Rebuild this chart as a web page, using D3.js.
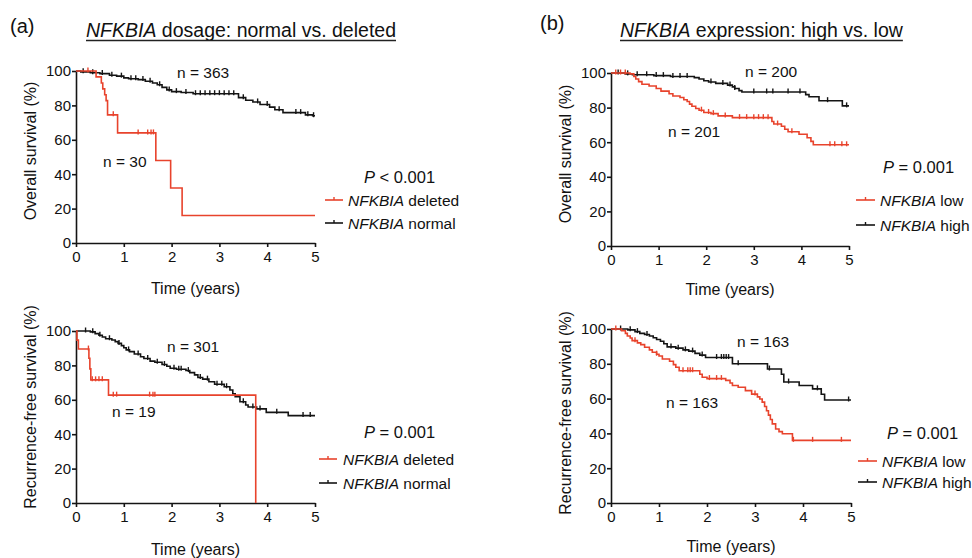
<!DOCTYPE html>
<html><head><meta charset="utf-8">
<script src="https://cdn.jsdelivr.net/npm/d3@7"></script>
<style>
body{margin:0;background:#fff}
svg{display:block}
text{font-family:"Liberation Sans",Arial,Helvetica,sans-serif;fill:#111}
</style>
</head><body>
<svg id="c" width="972" height="558"></svg>
<script>
// ---------- data ----------
const timeTicks = [0, 1, 2, 3, 4, 5];
const survTicks = [0, 20, 40, 60, 80, 100];

// (a) Overall survival
const aOS_normal = [[0,100],[0.1,99.5],[0.3,99],[0.5,98.5],[0.7,97.5],[0.85,97],[1.0,96],[1.1,95.5],[1.3,95],[1.45,94],[1.6,93],[1.7,92],[1.8,90.5],[1.9,89],[2.0,88],[2.2,87.5],[2.45,86.8],[3.4,84.5],[3.55,83],[3.7,82],[3.85,80.5],[4.05,79],[4.16,77.5],[4.33,75.8],[4.8,74.5],[4.95,74],[5,74]];
const aOS_normal_cens = [0.15,0.35,0.55,0.75,0.95,1.15,1.25,1.4,1.55,1.75,1.95,2.1,2.3,2.5,2.6,2.7,2.8,2.9,3.0,3.1,3.2,3.3,3.5,3.8,4.0,4.25,4.6,4.7,4.85,4.97];
const aOS_deleted = [[0,100],[0.42,96.6],[0.53,93],[0.56,89.6],[0.6,86.2],[0.63,82.8],[0.66,74.5],[0.87,64],[1.67,48],[1.98,32],[2.22,16],[5,16]];
const aOS_deleted_cens = [0.25,0.78,1.3,1.5,1.57,1.62];

// (a) Recurrence-free survival
const aRFS_normal = [[0,100],[0.3,99.5],[0.4,98.5],[0.48,97.5],[0.55,96.5],[0.62,95.5],[0.75,94.8],[0.82,93.8],[0.88,92.8],[0.95,91.5],[1.0,90.3],[1.05,89],[1.12,88],[1.22,86.6],[1.35,85],[1.42,84],[1.55,82.5],[1.65,81.8],[1.8,80.5],[1.9,79.5],[1.97,78.3],[2.1,77.8],[2.3,77],[2.38,75.8],[2.48,74.5],[2.55,73],[2.65,72],[2.78,70.5],[2.9,69],[3.1,67.6],[3.22,65.7],[3.28,63.5],[3.33,61.8],[3.43,58.9],[3.55,57],[3.6,55.8],[3.78,54.7],[3.98,52.7],[4.44,50.8],[5,50.8]];
const aRFS_normal_cens = [0.2,0.35,0.5,0.7,0.9,1.1,1.3,1.5,1.7,1.85,2.05,2.15,2.2,2.35,2.6,2.75,2.95,3.05,3.15,3.5,3.7,3.85,4.2,4.75,4.9];
const aRFS_deleted = [[0,100],[0.02,94.7],[0.05,89.5],[0.27,84.2],[0.29,78],[0.31,71.6],[0.68,62.7],[3.76,0]];
const aRFS_deleted_cens = [0.26,0.34,0.41,0.48,0.55,0.78,0.85,1.54,1.61,1.65];

// (b) Overall survival
const bOS_high = [[0,100],[0.3,99.5],[0.45,99],[0.9,98.5],[1.25,98],[1.75,97.3],[1.85,96.5],[1.95,95.5],[2.05,94.8],[2.2,94],[2.45,93],[2.55,92],[2.6,91],[2.69,89.8],[2.75,89],[4.09,87.5],[4.16,86.3],[4.37,84],[4.86,81],[5,81]];
const bOS_high_cens = [0.15,0.35,0.55,0.75,0.95,1.1,1.3,1.45,1.6,2.1,2.35,2.5,2.6,3.0,3.27,3.4,3.72,3.97,4.55,4.95];
const bOS_low = [[0,100],[0.4,99.5],[0.48,98],[0.52,96.5],[0.58,95],[0.65,93.5],[0.8,92.5],[0.95,91],[1.05,89.5],[1.22,88],[1.3,86.7],[1.45,85.8],[1.53,84.5],[1.6,83.5],[1.65,82],[1.7,80.8],[1.78,79.5],[1.85,78.5],[1.95,77.2],[2.1,76.5],[2.25,75.2],[2.55,74.2],[3.38,72],[3.42,70.5],[3.58,69.2],[3.65,67.5],[3.72,66],[3.95,64.6],[4.12,62.6],[4.2,60.5],[4.25,58.5],[5,58.5]];
const bOS_low_cens = [0.1,0.2,0.3,1.9,2.05,2.15,2.4,2.7,2.85,3.0,3.1,3.2,3.3,3.5,3.8,4.6,4.7,4.85,4.95];

// (b) Recurrence-free survival
const bRFS_high = [[0,100],[0.35,99.5],[0.5,98.5],[0.6,97.5],[0.7,96.8],[0.8,96],[0.88,95],[0.95,94],[1.03,93],[1.1,91.5],[1.17,89.7],[1.35,89],[1.5,88],[1.62,87.3],[1.75,86],[1.85,85],[1.97,83.6],[2.53,80],[3.26,77],[3.55,74],[3.6,69.5],[3.92,67.5],[4.2,65.6],[4.38,62.5],[4.45,59.2],[5,59.2]];
const bRFS_high_cens = [0.2,0.4,0.55,0.75,1.25,1.4,1.55,1.7,1.9,2.2,2.3,2.35,2.4,2.45,2.65,3.3,3.7,4.3,4.95];
const bRFS_low = [[0,100],[0.22,99],[0.3,97.5],[0.34,96],[0.4,94.8],[0.44,93.3],[0.55,92],[0.62,91],[0.7,89.5],[0.8,88],[0.86,86.6],[0.95,85.5],[1.0,84.5],[1.07,82.8],[1.22,81.5],[1.3,79.5],[1.35,78],[1.42,76],[1.85,74],[1.9,72.3],[2.0,71.5],[2.39,70.5],[2.48,69],[2.53,67.5],[2.65,66.5],[2.8,64.6],[2.93,62.6],[3.05,61],[3.1,59.8],[3.15,58],[3.2,55.5],[3.24,53],[3.28,50.5],[3.32,48],[3.36,45.5],[3.43,42.5],[3.5,41],[3.57,39.8],[3.78,36],[5,36]];
const bRFS_low_cens = [0.1,0.5,0.95,1.5,1.6,1.65,1.7,2.05,2.2,2.3,3.0,3.8,4.2,4.8];

const nLabels = [["n = 363","n = 30"],["n = 301","n = 19"],["n = 200","n = 201"],["n = 163","n = 163"]];
const pValues = ["P < 0.001","P = 0.001","P = 0.001","P = 0.001"];
const legendA = ["deleted","normal"];
const legendB = ["low","high"];

// ---------- styles / layout ----------
const RED = "#e8432c", BLACK = "#141414";
const svg = d3.select("#c");

const panels = [
  {x0:76,x5:315,yT:71,yB:243, yTitle:"Overall survival (%)", yTitleC:151, xTitleY:294,
   red:[aOS_deleted,aOS_deleted_cens], black:[aOS_normal,aOS_normal_cens],
   n:nLabels[0], nPos:[[177,78],[103,167]], p:pValues[0], leg:legendA,
   pPos:[364,183], legLine:[325,343], legY:[200,223], legTx:348},
  {x0:76,x5:315,yT:331,yB:503, yTitle:"Recurrence-free survival (%)", yTitleC:407, xTitleY:555,
   red:[aRFS_deleted,aRFS_deleted_cens], black:[aRFS_normal,aRFS_normal_cens],
   n:nLabels[1], nPos:[[167,352],[112,417]], p:pValues[1], leg:legendA,
   pPos:[364,438], legLine:[319,337], legY:[459,483], legTx:343},
  {x0:611,x5:849,yT:73,yB:246, yTitle:"Overall survival (%)", yTitleC:154, xTitleY:295,
   red:[bOS_low,bOS_low_cens], black:[bOS_high,bOS_high_cens],
   n:nLabels[2], nPos:[[745,77],[668,137]], p:pValues[2], leg:legendB,
   pPos:[883,173], legLine:[856,875], legY:[200,225], legTx:880},
  {x0:611,x5:851,yT:329,yB:503, yTitle:"Recurrence-free survival (%)", yTitleC:413, xTitleY:552,
   red:[bRFS_low,bRFS_low_cens], black:[bRFS_high,bRFS_high_cens],
   n:nLabels[3], nPos:[[737,347],[666,408]], p:pValues[3], leg:legendB,
   pPos:[887,439], legLine:[858,877], legY:[461,482], legTx:882}
];

function stepValue(steps, t){
  let v = steps[0][1];
  for (const s of steps){ if (s[0] <= t) v = s[1]; else break; }
  return v;
}

panels.forEach(p => {
  const x = d3.scaleLinear().domain([0,5]).range([p.x0,p.x5]);
  const y = d3.scaleLinear().domain([0,100]).range([p.yB,p.yT]);
  const g = svg.append("g");

  // axes
  const xa = g.append("g").attr("transform",`translate(0,${p.yB})`)
    .call(d3.axisBottom(x).tickValues(timeTicks).tickFormat(d3.format("d")).tickSize(4).tickSizeOuter(0).tickPadding(4));
  const ya = g.append("g").attr("transform",`translate(${p.x0},0)`)
    .call(d3.axisLeft(y).tickValues(survTicks).tickSize(4).tickSizeOuter(0).tickPadding(1));
  [xa,ya].forEach(a=>{
    a.selectAll("path,line").attr("stroke",BLACK).attr("stroke-width",1.6);
    a.selectAll("text").attr("font-size",15).attr("fill",BLACK)
      .attr("font-family",'"Liberation Sans",Arial,sans-serif');
  });

  // axis titles
  g.append("text").attr("x",(p.x0+p.x5)/2).attr("y",p.xTitleY)
    .attr("text-anchor","middle").attr("font-size",16).text("Time (years)");
  g.append("text").attr("transform",`translate(${p.x0-40},${p.yTitleC}) rotate(-90)`)
    .attr("text-anchor","middle").attr("font-size",16).text(p.yTitle);

  // curves
  const line = d3.line().x(d=>x(d[0])).y(d=>y(d[1])).curve(d3.curveStepAfter);
  [[p.black,BLACK],[p.red,RED]].forEach(([ser,col])=>{
    g.append("path").attr("d",line(ser[0])).attr("fill","none")
      .attr("stroke",col).attr("stroke-width",1.6);
    g.selectAll(null).data(ser[1]).enter().append("line")
      .attr("x1",d=>x(d)).attr("x2",d=>x(d))
      .attr("y1",d=>y(stepValue(ser[0],d))-3.5).attr("y2",d=>y(stepValue(ser[0],d))+1.5)
      .attr("stroke",col).attr("stroke-width",1.4);
  });

  // n labels
  p.n.forEach((t,i)=>{
    g.append("text").attr("x",p.nPos[i][0]).attr("y",p.nPos[i][1])
      .attr("font-size",15.5).text(t);
  });

  // P value
  const pt = g.append("text").attr("x",p.pPos[0]).attr("y",p.pPos[1]).attr("font-size",16.5);
  pt.append("tspan").attr("font-style","italic").text(p.p.slice(0,1));
  pt.append("tspan").text(p.p.slice(1));

  // legend
  [[RED,p.leg[0]],[BLACK,p.leg[1]]].forEach(([col,lab],i)=>{
    const ly = p.legY[i];
    g.append("line").attr("x1",p.legLine[0]).attr("x2",p.legLine[1])
      .attr("y1",ly).attr("y2",ly).attr("stroke",col).attr("stroke-width",1.6);
    const mx = (p.legLine[0]+p.legLine[1])/2;
    g.append("line").attr("x1",mx).attr("x2",mx).attr("y1",ly-3).attr("y2",ly)
      .attr("stroke",col).attr("stroke-width",1.4);
    const lt = g.append("text").attr("x",p.legTx).attr("y",ly+6).attr("font-size",15.5);
    lt.append("tspan").attr("font-style","italic").text("NFKBIA");
    lt.append("tspan").text(" "+lab);
  });
});

// panel titles
const titles = [
  {lab:"(a)", lx:10, ly:33, tx:86, ty:37, rest:" dosage: normal vs. deleted"},
  {lab:"(b)", lx:540, ly:30, tx:620, ty:37, rest:" expression: high vs. low"}
];
titles.forEach(t=>{
  svg.append("text").attr("x",t.lx).attr("y",t.ly).attr("font-size",20).text(t.lab);
  const tt = svg.append("text").attr("x",t.tx).attr("y",t.ty).attr("font-size",19.5);
  tt.append("tspan").attr("font-style","italic").text("NFKBIA");
  tt.append("tspan").text(t.rest);
  const w = tt.node().getComputedTextLength();
  svg.append("line").attr("x1",t.tx).attr("x2",t.tx+w).attr("y1",t.ty+3.5).attr("y2",t.ty+3.5)
    .attr("stroke","#222").attr("stroke-width",1.5);
});
</script>
</body></html>
